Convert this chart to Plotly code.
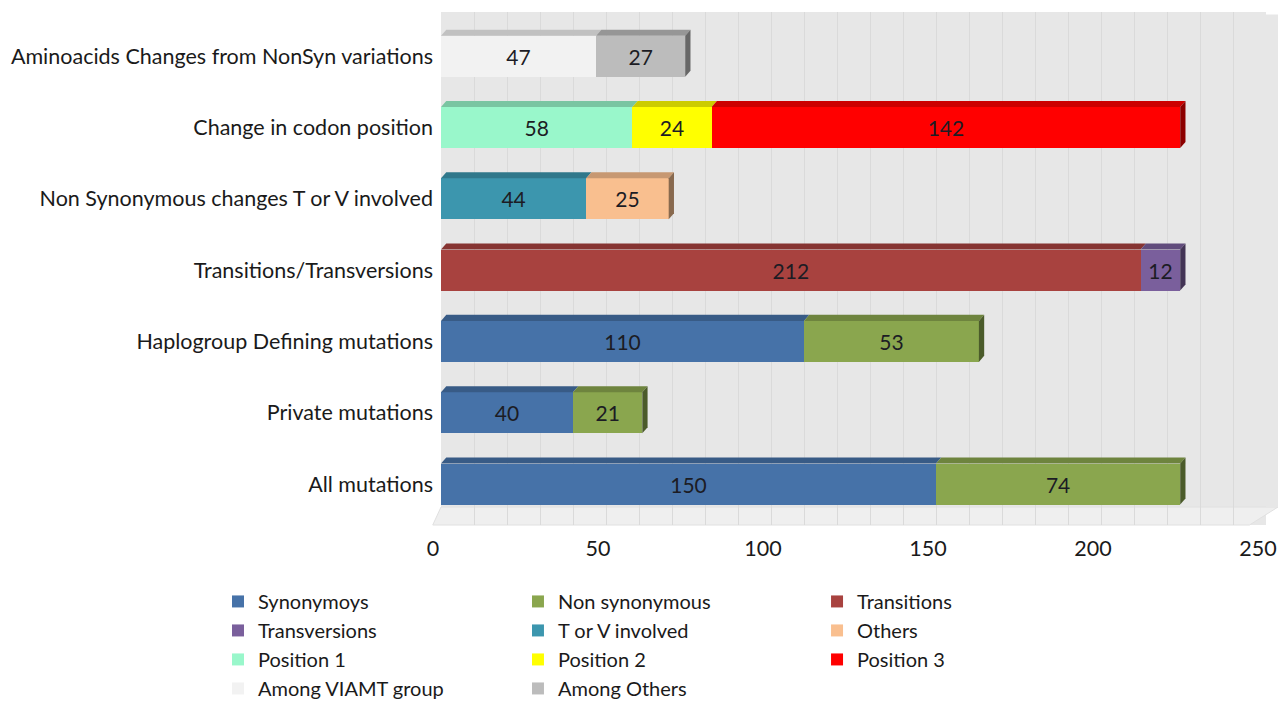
import plotly.graph_objects as go

categories = [
    "All mutations",
    "Private mutations",
    "Haplogroup Defining mutations",
    "Transitions/Transversions",
    "Non Synonymous changes T or V involved",
    "Change in codon position",
    "Aminoacids Changes from NonSyn variations",
]

series_names = [
    "Synonymoys", "Non synonymous", "Transitions",
    "Transversions", "T or V involved", "Others",
    "Position 1", "Position 2", "Position 3",
    "Among VIAMT group", "Among Others",
]

# category per series / values per series
synonymous_cats = ["All mutations", "Private mutations", "Haplogroup Defining mutations"]
synonymous_vals = [150, 40, 110]
nonsyn_cats = ["All mutations", "Private mutations", "Haplogroup Defining mutations"]
nonsyn_vals = [74, 21, 53]
transitions_cats = ["Transitions/Transversions"]
transitions_vals = [212]
transversions_cats = ["Transitions/Transversions"]
transversions_vals = [12]
torv_cats = ["Non Synonymous changes T or V involved"]
torv_vals = [44]
others_cats = ["Non Synonymous changes T or V involved"]
others_vals = [25]
pos1_cats = ["Change in codon position"]
pos1_vals = [58]
pos2_cats = ["Change in codon position"]
pos2_vals = [24]
pos3_cats = ["Change in codon position"]
pos3_vals = [142]
viamt_cats = ["Aminoacids Changes from NonSyn variations"]
viamt_vals = [47]
amongoth_cats = ["Aminoacids Changes from NonSyn variations"]
amongoth_vals = [27]

x_ticks = [0, 50, 100, 150, 200, 250]

colors = ["#4672a8", "#8aa64e", "#a8423f", "#7a5f9c", "#3c96ae", "#f9bf8f",
          "#99f7cb", "#ffff00", "#ff0000", "#f2f2f2", "#bcbcbc"]

series = [
    (synonymous_cats, synonymous_vals), (nonsyn_cats, nonsyn_vals),
    (transitions_cats, transitions_vals), (transversions_cats, transversions_vals),
    (torv_cats, torv_vals), (others_cats, others_vals),
    (pos1_cats, pos1_vals), (pos2_cats, pos2_vals), (pos3_cats, pos3_vals),
    (viamt_cats, viamt_vals), (amongoth_cats, amongoth_vals),
]

# legend column of each series (3-column legend, row-major order)
legend_ids = ["legend", "legend2", "legend3"] * 4

FONT = "Lato"
BAR_W = 0.575


def shade(hexcol, f):
    h = hexcol.lstrip("#")
    r, g, b = (int(h[i:i + 2], 16) for i in (0, 2, 4))
    return "#%02x%02x%02x" % (int(r * f), int(g * f), int(b * f))


fig = go.Figure()
for k, (name, col, (cats, vals)) in enumerate(zip(series_names, colors, series)):
    fig.add_trace(go.Bar(
        name=name, y=cats, x=vals, orientation="h",
        marker=dict(color=col, line=dict(width=0)),
        width=BAR_W, legend=legend_ids[k],
        text=[str(v) for v in vals], textposition="inside",
        insidetextanchor="middle", textangle=0, constraintext="none",
        textfont=dict(family=FONT, size=21, color="#1c1c24"),
        hoverinfo="x+y+name",
    ))

# pseudo-3D top and side faces computed from the data
dx, dy = 1.6, 0.085
h = BAR_W / 2
shapes = [
    # floor strip under the back wall
    dict(type="path", xref="paper", yref="paper", layer="below",
         path="M -0.01,0 L 0.0,0.035 L 1.0145,0.035 L 0.98,0 Z",
         fillcolor="#efefef", line=dict(width=1, color="#e0e0e0")),
    # right continuation of the back wall
    dict(type="rect", xref="paper", yref="paper", layer="below",
         x0=1.0, x1=1.0145, y0=0.035, y1=0.995,
         fillcolor="#e7e7e7", line=dict(width=0)),
]
cum = {c: 0 for c in categories}
last = {}
for col, (cats, vals) in zip(colors, series):
    for c, v in zip(cats, vals):
        i = categories.index(c)
        x0 = cum[c]
        x1 = x0 + v
        cum[c] = x1
        shapes.append(dict(
            type="path", xref="x", yref="y", layer="above",
            path=f"M {x0},{i + h} L {x0 + dx},{i + h + dy} L {x1 + dx},{i + h + dy} L {x1},{i + h} Z",
            fillcolor=shade(col, 0.8), line=dict(width=0)))
        last[c] = (i, x1, col)
for c, (i, x1, col) in last.items():
    shapes.append(dict(
        type="path", xref="x", yref="y", layer="above",
        path=f"M {x1},{i + h} L {x1 + dx},{i + h + dy} L {x1 + dx},{i - h + dy} L {x1},{i - h} Z",
        fillcolor=shade(col, 0.55), line=dict(width=0)))

leg_common = dict(
    orientation="v", xanchor="left", y=-0.111, yanchor="top",
    traceorder="normal", tracegroupgap=0,
    font=dict(family=FONT, size=20, color="#1a1a1a"),
    bgcolor="rgba(0,0,0,0)",
)

fig.update_layout(
    barmode="stack",
    width=1270, height=694,
    margin=dict(l=433, r=12, t=4, b=177, autoexpand=False),
    paper_bgcolor="white",
    plot_bgcolor="#e7e7e7",
    font=dict(family=FONT, size=21, color="#1a1a1a"),
    shapes=shapes,
    showlegend=True,
    legend=dict(x=-0.2703, **leg_common),
    legend2=dict(x=0.0933, **leg_common),
    legend3=dict(x=0.4558, **leg_common),
    xaxis=dict(
        range=[0, 250], tickvals=x_ticks, showgrid=True, gridcolor="#dadada",
        gridwidth=1, zeroline=False, showline=False, automargin=False,
        ticklabelstandoff=8, ticklabelshift=-8, tickfont=dict(family=FONT, size=21.5),
        minor=dict(dtick=10, showgrid=True, gridcolor="#dadada", gridwidth=1),
    ),
    yaxis=dict(
        categoryorder="array", categoryarray=categories,
        range=[-0.575, 6.62], showgrid=False, zeroline=False, showline=False,
        automargin=False,
        ticklabelstandoff=7, tickfont=dict(family=FONT, size=21.5),
    ),
)

fig.write_html("out.html")
